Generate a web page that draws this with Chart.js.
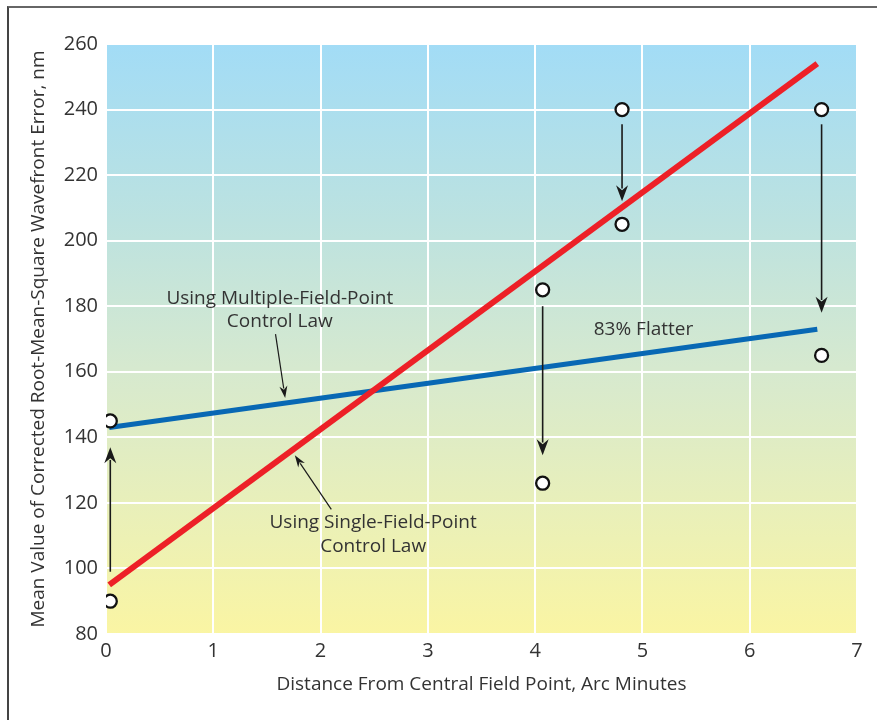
<!DOCTYPE html>
<html>
<head>
<meta charset="utf-8">
<style>
  html, body { margin: 0; padding: 0; background: #fff; }
  #wrap { position: relative; width: 877px; height: 720px; }
  #frame { position: absolute; left: 7px; top: 6px; right: -4px; bottom: -4px;
           border-top: 2px solid #666; border-left: 2px solid #444; pointer-events: none; }
</style>
<script src="https://cdn.jsdelivr.net/npm/chart.js@4"></script>
</head>
<body>
<div id="wrap">
  <canvas id="c" width="877" height="720"></canvas>
  <div id="frame"></div>
</div>
<script>
  "use strict";

  // fitted lines (end points)
  var singleX = [0.03, 6.63];
  var singleY = [95, 254];
  var multiX = [0.03, 6.63];
  var multiY = [143, 173];

  // measured points (open circles)
  var pointX = [0.04, 0.04, 4.07, 4.07, 4.81, 4.81, 6.67, 6.67];
  var pointY = [90, 145, 185, 126, 240, 205, 240, 165];

  // correction arrows: x, start value, tip value
  var arrowX = [0.04, 4.07, 4.81, 6.67];
  var arrowFrom = [99, 180, 235.5, 235.5];
  var arrowTo = [137, 134.5, 212, 178];

  // callout arrows for the two labels
  var calloutFromX = [1.58, 2.10];
  var calloutFromY = [171.5, 118];
  var calloutToX = [1.67, 1.76];
  var calloutToY = [152, 134.5];

  // text notes: lines, centre x, first baseline value
  var noteText = [
    ["Using Multiple-Field-Point", "Control Law"],
    ["Using Single-Field-Point", "Control Law"],
    ["83% Flatter"]
  ];
  var noteX = [1.62, 2.49, 5.01];
  var noteY = [180.8, 112.2, 171.1];

  var xTicks = [0, 1, 2, 3, 4, 5, 6, 7];
  var yTicks = [80, 100, 120, 140, 160, 180, 200, 220, 240, 260];

  var FONT = "'Open Sans', 'Noto Sans', sans-serif";
  var TEXT = "#333333";
  var RED = "#ed2027";
  var BLUE = "#0868b4";

  function pts(xs, ys) {
    return xs.map(function (x, i) { return { x: x, y: ys[i] }; });
  }

  function drawArrow(ctx, x1, y1, x2, y2, lw, headLen, headW) {
    var ang = Math.atan2(y2 - y1, x2 - x1);
    var bx = x2 - Math.cos(ang) * headLen * 0.8;
    var by = y2 - Math.sin(ang) * headLen * 0.8;
    ctx.save();
    ctx.strokeStyle = "#1a1a1a";
    ctx.fillStyle = "#1a1a1a";
    ctx.lineWidth = lw;
    ctx.beginPath();
    ctx.moveTo(x1, y1);
    ctx.lineTo(bx, by);
    ctx.stroke();
    ctx.translate(x2, y2);
    ctx.rotate(ang);
    ctx.beginPath();
    ctx.moveTo(0, 0);
    ctx.lineTo(-headLen, -headW / 2);
    ctx.lineTo(-headLen * 0.7, 0);
    ctx.lineTo(-headLen, headW / 2);
    ctx.closePath();
    ctx.fill();
    ctx.restore();
  }

  var backdrop = {
    id: "backdrop",
    beforeDraw: function (chart) {
      var a = chart.chartArea;
      var ctx = chart.ctx;
      var g = ctx.createLinearGradient(0, a.top, 0, a.bottom);
      g.addColorStop(0, "#a2dcf6");
      g.addColorStop(0.3, "#bce2e0");
      g.addColorStop(0.55, "#d6e9cf");
      g.addColorStop(0.8, "#eaf0b8");
      g.addColorStop(1, "#faf5a3");
      ctx.save();
      ctx.fillStyle = g;
      ctx.fillRect(a.left, a.top, a.right - a.left, a.bottom - a.top);
      ctx.restore();
    }
  };

  var overlay = {
    id: "overlay",
    afterDatasetsDraw: function (chart) {
      var xs = chart.scales.x;
      var ys = chart.scales.y;
      var ctx = chart.ctx;
      arrowX.forEach(function (x, i) {
        drawArrow(ctx, xs.getPixelForValue(x), ys.getPixelForValue(arrowFrom[i]),
          xs.getPixelForValue(x), ys.getPixelForValue(arrowTo[i]), 1.6, 16, 12);
      });
      calloutFromX.forEach(function (x, i) {
        drawArrow(ctx, xs.getPixelForValue(x), ys.getPixelForValue(calloutFromY[i]),
          xs.getPixelForValue(calloutToX[i]), ys.getPixelForValue(calloutToY[i]), 1.2, 12, 8);
      });
      ctx.save();
      ctx.font = "19px " + FONT;
      ctx.fillStyle = TEXT;
      ctx.textAlign = "center";
      ctx.textBaseline = "alphabetic";
      noteText.forEach(function (lines, i) {
        var cx = xs.getPixelForValue(noteX[i]);
        var by = ys.getPixelForValue(noteY[i]);
        lines.forEach(function (t, k) {
          ctx.fillText(t, cx, by + k * 23.5);
        });
      });
      ctx.restore();
    }
  };

  new Chart(document.getElementById("c"), {
    type: "scatter",
    data: {
      datasets: [
        {
          data: pts(pointX, pointY),
          pointRadius: 6.5,
          pointBorderWidth: 2.3,
          pointBackgroundColor: "#ffffff",
          pointBorderColor: "#111111",
          showLine: false,
          order: 0
        },
        {
          data: pts(multiX, multiY),
          showLine: true,
          borderColor: BLUE,
          borderWidth: 5,
          pointRadius: 0,
          order: 2
        },
        {
          data: pts(singleX, singleY),
          showLine: true,
          borderColor: RED,
          borderWidth: 6,
          pointRadius: 0,
          order: 1
        }
      ]
    },
    options: {
      responsive: false,
      animation: false,
      layout: { padding: { top: 44, right: 20, left: 0, bottom: 0 } },
      plugins: { legend: { display: false }, tooltip: { enabled: false } },
      scales: {
        x: {
          type: "linear",
          min: 0, max: 7,
          afterBuildTicks: function (s) { s.ticks = xTicks.map(function (v) { return { value: v }; }); },
          afterFit: function (s) { s.height = 86; },
          grid: { color: "#ffffff", lineWidth: 2, drawTicks: false },
          border: { display: false },
          ticks: { color: TEXT, font: { family: FONT, size: 20 }, padding: 5 },
          title: {
            display: true,
            text: "Distance From Central Field Point, Arc Minutes",
            color: TEXT,
            font: { family: FONT, size: 19 },
            padding: { top: 0, bottom: 24 }
          }
        },
        y: {
          type: "linear",
          min: 80, max: 260,
          afterBuildTicks: function (s) { s.ticks = yTicks.map(function (v) { return { value: v }; }); },
          afterFit: function (s) { s.width = 106; },
          grid: { color: "#ffffff", lineWidth: 2, drawTicks: false },
          border: { display: false },
          ticks: { color: TEXT, font: { family: FONT, size: 20 }, padding: 8 },
          title: {
            display: true,
            text: "Mean Value of Corrected Root-Mean-Square Wavefront Error, nm",
            color: TEXT,
            font: { family: FONT, size: 19 },
            padding: { top: 27, bottom: 0 }
          }
        }
      }
    },
    plugins: [backdrop, overlay]
  });
</script>
</body>
</html>
